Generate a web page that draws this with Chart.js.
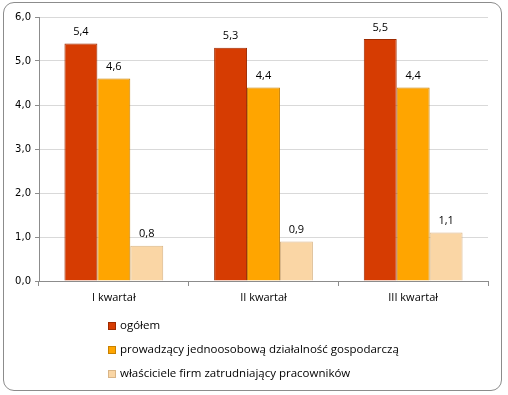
<!DOCTYPE html>
<html><head><meta charset="utf-8">
<script src="https://cdn.jsdelivr.net/npm/chart.js@4"></script>
<style>
html,body{margin:0;padding:0;background:#fff;}
#wrap{position:absolute;left:0;top:0;width:508px;height:395px;}
#frame{position:absolute;left:3px;top:2px;width:499px;height:389px;border:1px solid #8c8c8c;border-radius:11px;box-sizing:border-box;}
canvas{position:absolute;left:0;top:0;}
</style></head>
<body>
<div id="wrap"><div id="frame"></div><canvas id="c" width="508" height="395"></canvas></div>
<script>
const categories = ["I kwartał", "II kwartał", "III kwartał"];
const seriesNames = ["ogółem", "prowadzący jednoosobową działalność gospodarczą", "właściciele firm zatrudniający pracowników"];
const ogolem = [5.4, 5.3, 5.5];
const jednoosobowa = [4.6, 4.4, 4.4];
const wlasciciele = [0.8, 0.9, 1.1];
const yTicks = [0, 1, 2, 3, 4, 5, 6];

const fills = ["#D63C02", "#FFA500", "#FAD6A5"];
const edges = ["#9E2A00", "#C88100", "#D9B587"];
const fmt = v => v.toFixed(1).replace('.', ',');

const labelsPlugin = {
  id: 'vals',
  afterDatasetsDraw(chart) {
    const ctx = chart.ctx;
    ctx.save();
    ctx.font = '11px "Open Sans", "DejaVu Sans", sans-serif';
    ctx.fillStyle = '#000';
    ctx.textAlign = 'center';
    ctx.textBaseline = 'bottom';
    chart.data.datasets.forEach((ds, i) => {
      chart.getDatasetMeta(i).data.forEach((bar, j) => {
        ctx.fillText(fmt(ds.data[j]), bar.x, bar.y - 6);
      });
    });
    ctx.restore();
  }
};

const legendPlugin = {
  id: 'vlegend',
  afterDraw(chart) {
    const ctx = chart.ctx;
    ctx.save();
    ctx.font = '11.5px "Open Sans", "DejaVu Sans", sans-serif';
    ctx.textBaseline = 'middle';
    ctx.textAlign = 'left';
    chart.data.datasets.forEach((ds, i) => {
      const y = 326 + i * 24;
      ctx.fillStyle = ds.backgroundColor;
      ctx.fillRect(108, y - 4, 8, 8);
      ctx.strokeStyle = ds.borderColor;
      ctx.lineWidth = 1;
      ctx.strokeRect(108.5, y - 3.5, 7, 7);
      ctx.fillStyle = '#000';
      ctx.fillText(ds.label, 120, y);
    });
    ctx.restore();
  }
};

new Chart(document.getElementById('c'), {
  type: 'bar',
  data: {
    labels: categories,
    datasets: [
      { label: seriesNames[0], data: ogolem, backgroundColor: fills[0], borderColor: edges[0], borderWidth: 1 },
      { label: seriesNames[1], data: jednoosobowa, backgroundColor: fills[1], borderColor: edges[1], borderWidth: 1 },
      { label: seriesNames[2], data: wlasciciele, backgroundColor: fills[2], borderColor: edges[2], borderWidth: 1 }
    ]
  },
  options: {
    responsive: false,
    animation: false,
    devicePixelRatio: 1,
    layout: { padding: { left: 0, right: 20, top: 17, bottom: 84 } },
    plugins: { legend: { display: false }, tooltip: { enabled: false } },
    datasets: { bar: { categoryPercentage: 0.66, barPercentage: 1.0 } },
    scales: {
      x: {
        offset: true,
        grid: { display: true, drawOnChartArea: false, tickLength: 5, color: '#8c8c8c' },
        border: { color: '#8c8c8c' },
        ticks: { color: '#000', font: { family: '"Open Sans", "DejaVu Sans", sans-serif', size: 11 }, padding: 5 },
        afterFit(s) { s.height = 30; }
      },
      y: {
        min: 0, max: 6,
        afterBuildTicks(s) { s.ticks = yTicks.map(v => ({ value: v })); },
        grid: { color: '#d9d9d9', tickLength: 4, tickColor: '#8c8c8c' },
        border: { color: '#8c8c8c' },
        ticks: { color: '#000', font: { family: '"DejaVu Sans", sans-serif', size: 10 }, padding: 4, callback: v => fmt(v) },
        afterFit(s) { s.width = 39; }
      }
    }
  },
  plugins: [labelsPlugin, legendPlugin]
});
</script>
</body></html>
